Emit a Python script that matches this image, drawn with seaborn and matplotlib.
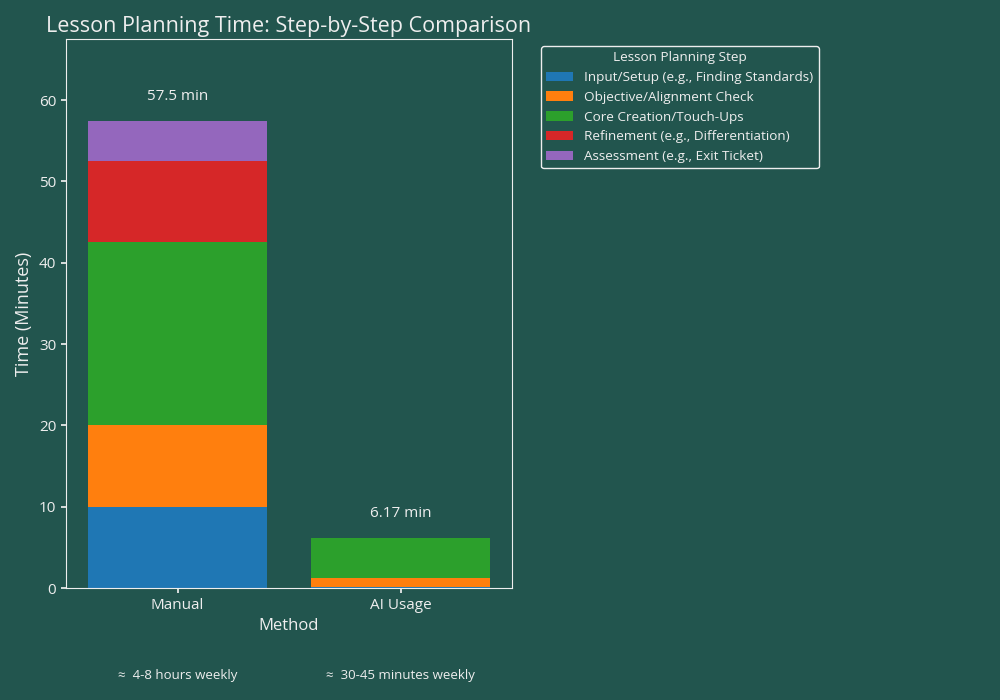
import numpy as np
import pandas as pd
import matplotlib
matplotlib.use("Agg")
import matplotlib.pyplot as plt
import matplotlib.transforms as mtransforms
import seaborn as sns

# Lesson planning minutes per step
methods = ["Manual", "AI Usage"]
steps = [
    "Input/Setup (e.g., Finding Standards)",
    "Objective/Alignment Check",
    "Core Creation/Touch-Ups",
    "Refinement (e.g., Differentiation)",
    "Assessment (e.g., Exit Ticket)",
]
manual_minutes = [10.0, 10.0, 22.5, 10.0, 5.0]
ai_minutes = [0.17, 1.0, 5.0, 0.0, 0.0]
weekly_notes = ["≈  4-8 hours weekly", "≈  30-45 minutes weekly"]
step_colors = ["#1f77b4", "#ff7f0e", "#2ca02c", "#d62728", "#9467bd"]

bg = "#22554e"
fg = "#eeeeee"

sns.set_theme(style="ticks")
plt.rcParams["font.family"] = ["Open Sans", "DejaVu Sans"]

df = pd.DataFrame({"Manual": manual_minutes, "AI Usage": ai_minutes}, index=steps)

fig = plt.figure(figsize=(10, 7), dpi=100, facecolor=bg)
ax = fig.add_axes([0.066, 0.16, 0.446, 0.784])
ax.set_facecolor(bg)

# stack one step at a time
bottom = np.zeros(len(methods))
for step, color in zip(steps, step_colors):
    vals = df.loc[step, methods].to_numpy(dtype=float)
    sns.barplot(x=methods, y=vals, bottom=bottom, color=color, label=step,
                width=0.8, errorbar=None, saturation=1, linewidth=0, ax=ax)
    bottom = bottom + vals

totals = df[methods].sum()
for i, m in enumerate(methods):
    ax.text(i, totals[m] + 3, f"{totals[m]:.3g} min", ha="center", va="center",
            color=fg, fontsize=11)

trans = mtransforms.blended_transform_factory(ax.transData, ax.transAxes)
for i, note in enumerate(weekly_notes):
    ax.text(i, -0.16, note, transform=trans, ha="center", va="center",
            color=fg, fontsize=9.5)

ax.set_xlim(-0.5, 1.5)
ax.set_ylim(0, 67.5)
ax.set_title("Lesson Planning Time: Step-by-Step Comparison", color=fg, fontsize=15.5, pad=5)
ax.set_xlabel("Method", color=fg, fontsize=12)
ax.set_ylabel("Time (Minutes)", color=fg, fontsize=13)
ax.tick_params(colors=fg, labelsize=11, length=3.5)
for s in ax.spines.values():
    s.set_color(fg)
    s.set_linewidth(0.8)

leg = ax.legend(title="Lesson Planning Step", loc="upper left", bbox_to_anchor=(1.05, 1),
                fontsize=9.7, title_fontsize=9.7, facecolor=bg, edgecolor=fg, framealpha=1)
for t in leg.get_texts():
    t.set_color(fg)
leg.get_title().set_color(fg)

fig.savefig("out.png", facecolor=bg)
